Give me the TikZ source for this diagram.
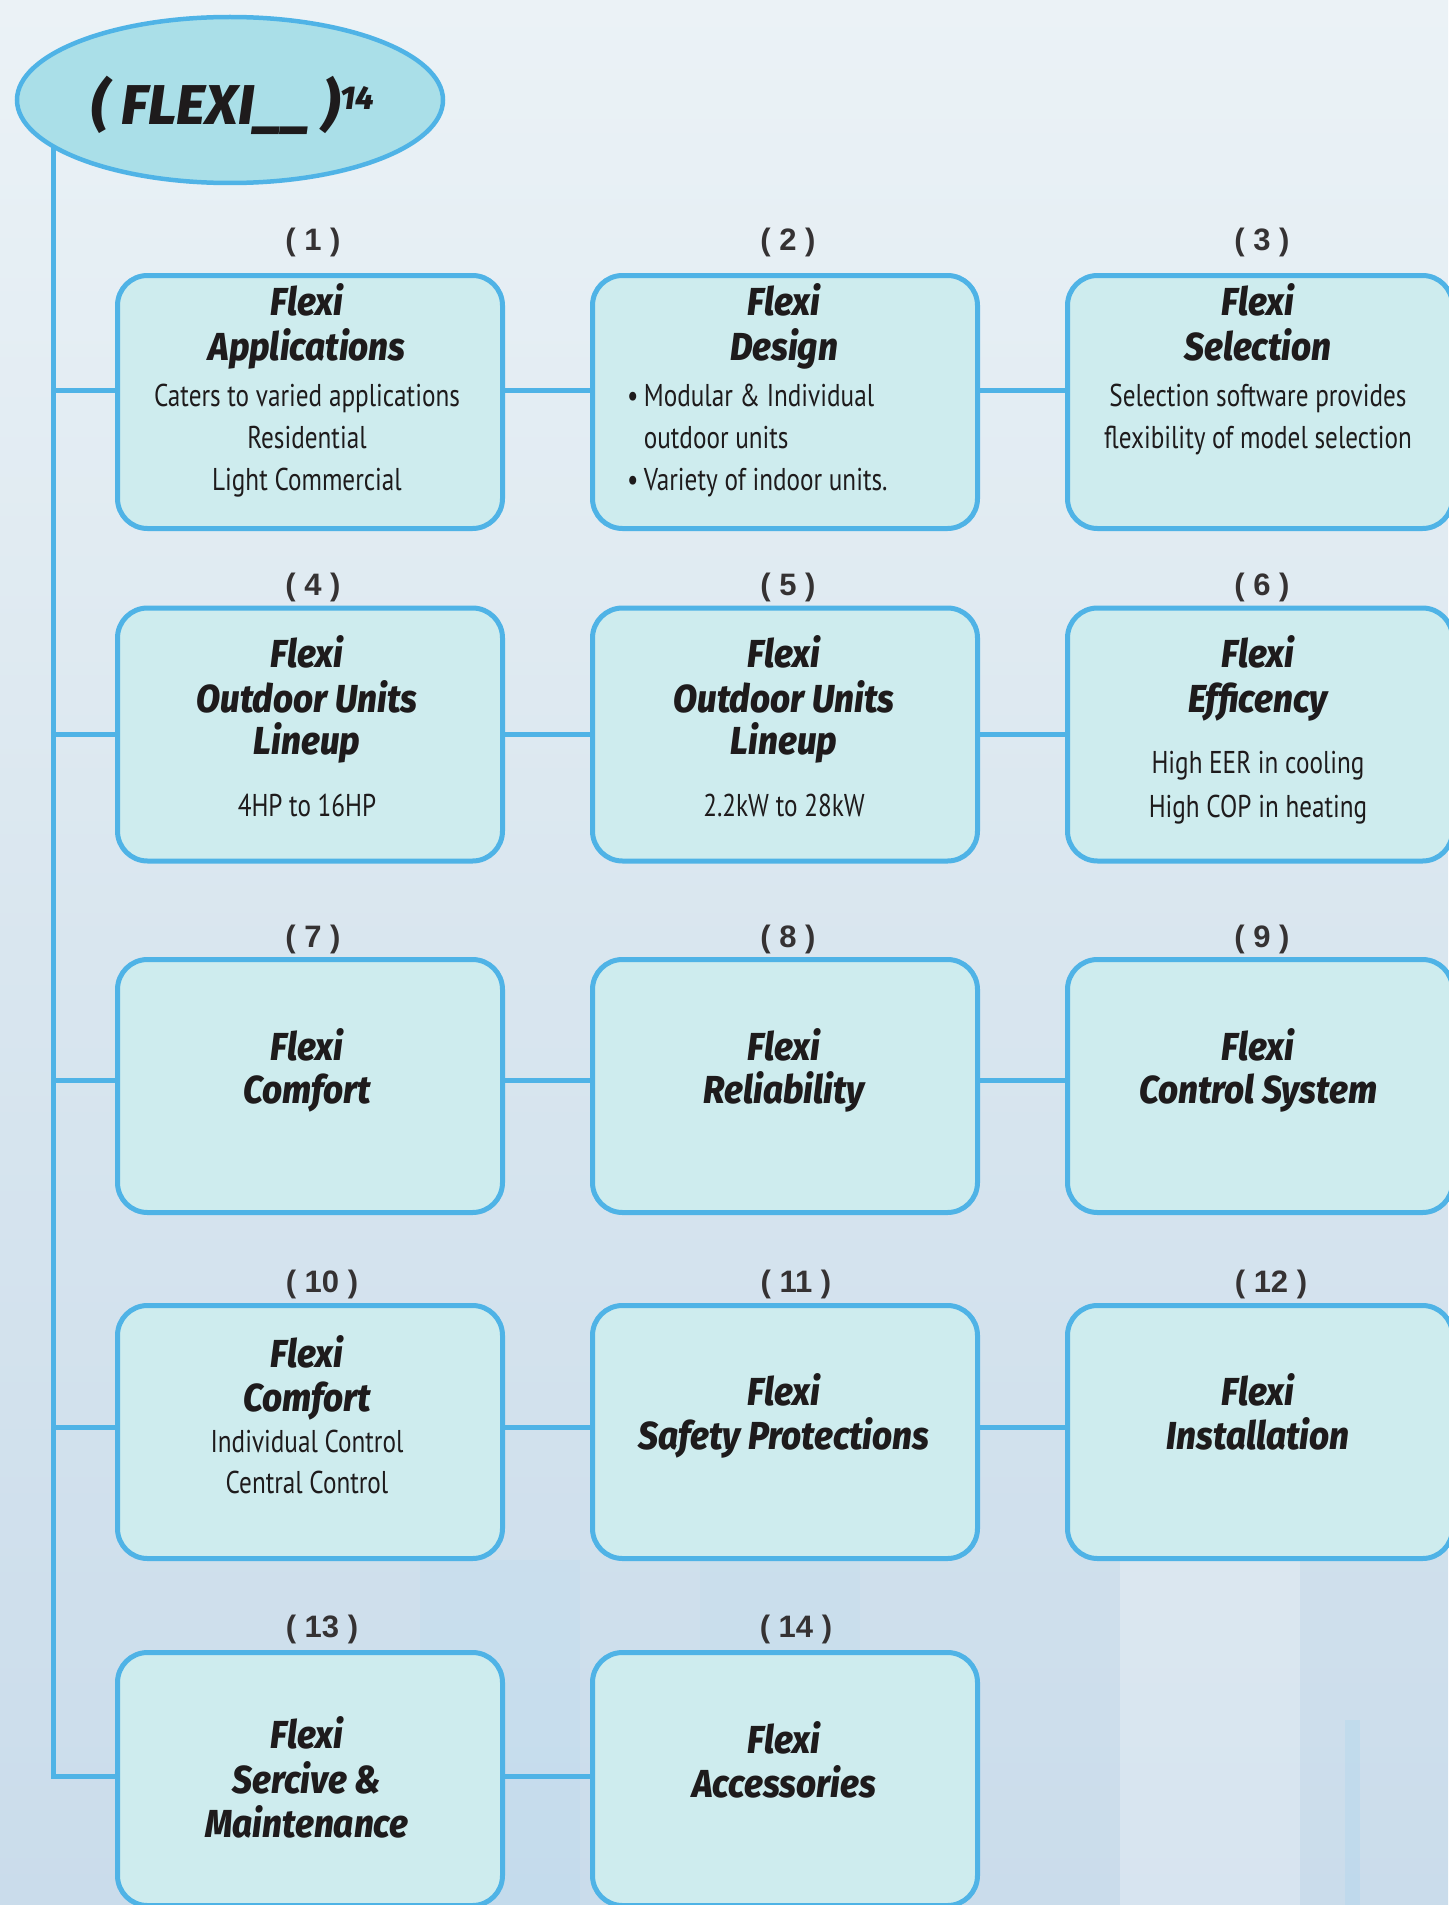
\documentclass[tikz,border=0pt]{standalone}
\usepackage{fontspec}
\newfontfamily\ttlfont[FakeStretch=0.9]{Fira Sans ExtraBold Italic}
\newfontfamily\headfont{Fira Sans ExtraBold Italic}
\newfontfamily\bodyfont[FakeStretch=0.8]{PT Sans}
\newfontfamily\lblfont{Liberation Sans}
\usetikzlibrary{shapes.geometric,backgrounds}
\definecolor{lineblue}{HTML}{4FB3E6}
\definecolor{boxfill}{HTML}{CEECEE}
\definecolor{ellfill}{HTML}{AADFE8}
\definecolor{txt}{HTML}{1E1B1C}
\definecolor{bgtop}{HTML}{EBF2F6}
\definecolor{bgmid}{HTML}{D9E6EF}
\definecolor{bgbot}{HTML}{CADCEB}
\begin{document}
\begin{tikzpicture}[x=1pt,y=-1pt,
  fbox/.style={draw=lineblue,line width=5pt,fill=boxfill,rounded corners=30pt,minimum width=385pt,minimum height=253pt,inner sep=0pt},
  conn/.style={draw=lineblue,line width=5pt},
  ttl/.style={font=\ttlfont\fontsize{39}{39}\selectfont,text=txt,inner sep=0pt,anchor=base},
  bdy/.style={font=\bodyfont\fontsize{31.5}{31.5}\selectfont,text=txt,inner sep=0pt,anchor=base},
  lbl/.style={font=\lblfont\bfseries\fontsize{31}{31}\selectfont,text=txt!90,inner sep=0pt,anchor=base}]
\useasboundingbox (0,0) rectangle (1448,1905);
\begin{scope}[on background layer]
  \fill[top color=bgtop,bottom color=bgbot,middle color=bgmid] (0,0) rectangle (1448,1905);
  \fill[white,opacity=0.25] (1120,1520) rectangle (1300,1905);
  \fill[lineblue!50,opacity=0.15] (420,1560) rectangle (580,1905);
  \fill[lineblue!50,opacity=0.12] (700,1500) rectangle (860,1905);
  \fill[lineblue!60,opacity=0.2] (1345,1720) rectangle (1360,1905);
\end{scope}

% title ellipse
\node[ellipse,draw=lineblue,line width=4.5pt,fill=ellfill,minimum width=426pt,minimum height=166pt,inner sep=0pt] (e) at (230,100) {};
\node[font=\headfont\fontsize{56}{56}\selectfont,text=txt,inner sep=0pt,anchor=base] (et) at (233,125) {( FLEXI\_\_ )\raisebox{15pt}{\fontsize{33}{33}\selectfont 14}};

% boxes
\node[fbox] (b1) at (310,402) {};
\node[fbox] (b2) at (785,402) {};
\node[fbox] (b3) at (1260,402) {};
\node[fbox] (b4) at (310,734.5) {};
\node[fbox] (b5) at (785,734.5) {};
\node[fbox] (b6) at (1260,734.5) {};
\node[fbox] (b7) at (310,1086) {};
\node[fbox] (b8) at (785,1086) {};
\node[fbox] (b9) at (1260,1086) {};
\node[fbox] (b10) at (310,1432) {};
\node[fbox] (b11) at (785,1432) {};
\node[fbox] (b12) at (1260,1432) {};
\node[fbox] (b13) at (310,1779) {};
\node[fbox] (b14) at (785,1779) {};

% number labels
\node[lbl] (l1) at (313,250) {( 1 )};
\node[lbl] (l2) at (788,250) {( 2 )};
\node[lbl] (l3) at (1262,250) {( 3 )};
\node[lbl] (l4) at (313,595) {( 4 )};
\node[lbl] (l5) at (788,595) {( 5 )};
\node[lbl] (l6) at (1262,595) {( 6 )};
\node[lbl] (l7) at (313,947) {( 7 )};
\node[lbl] (l8) at (788,947) {( 8 )};
\node[lbl] (l9) at (1262,947) {( 9 )};
\node[lbl] (l10) at (322,1292) {( 10 )};
\node[lbl] (l11) at (796,1292) {( 11 )};
\node[lbl] (l12) at (1271,1292) {( 12 )};
\node[lbl] (l13) at (322,1637) {( 13 )};
\node[lbl] (l14) at (796,1637) {( 14 )};

% box 1
\node[ttl] (t1a) at (307,315) {Flexi};
\node[ttl] (t1b) at (307,360) {Applications};
\node[bdy] (t1c) at (307,406) {Caters to varied applications};
\node[bdy] (t1d) at (307,448) {Residential};
\node[bdy] (t1e) at (307,490) {Light Commercial};
% box 2
\node[ttl] (t2a) at (784,315) {Flexi};
\node[ttl] (t2b) at (784,360) {Design};
\node[bdy,anchor=base west] (t2c) at (627,406) {\textbullet\,Modular \& Individual};
\node[bdy,anchor=base west] (t2d) at (627,448) {\phantom{\textbullet\,}outdoor units};
\node[bdy,anchor=base west] (t2e) at (627,490) {\textbullet\,Variety of indoor units.};
% box 3
\node[ttl] (t3a) at (1258,315) {Flexi};
\node[ttl] (t3b) at (1258,360) {Selection};
\node[bdy] (t3c) at (1258,406) {Selection software provides};
\node[bdy] (t3d) at (1258,448) {flexibility of model selection};
% box 4
\node[ttl] (t4a) at (307,667) {Flexi};
\node[ttl] (t4b) at (307,712) {Outdoor Units};
\node[ttl] (t4c) at (307,754) {Lineup};
\node[bdy] (t4d) at (307,816) {4HP to 16HP};
% box 5
\node[ttl] (t5a) at (784,667) {Flexi};
\node[ttl] (t5b) at (784,712) {Outdoor Units};
\node[ttl] (t5c) at (784,754) {Lineup};
\node[bdy] (t5d) at (784,816) {2.2kW to 28kW};
% box 6
\node[ttl] (t6a) at (1258,667) {Flexi};
\node[ttl] (t6b) at (1258,712) {Efficency};
\node[bdy] (t6c) at (1258,773) {High EER in cooling};
\node[bdy] (t6d) at (1258,817) {High COP in heating};
% row 3
\node[ttl] (t7a) at (307,1060) {Flexi};
\node[ttl] (t7b) at (307,1103) {Comfort};
\node[ttl] (t8a) at (784,1060) {Flexi};
\node[ttl] (t8b) at (784,1103) {Reliability};
\node[ttl] (t9a) at (1258,1060) {Flexi};
\node[ttl] (t9b) at (1258,1103) {Control System};
% row 4
\node[ttl] (t10a) at (307,1367) {Flexi};
\node[ttl] (t10b) at (307,1411) {Comfort};
\node[bdy] (t10c) at (307,1452) {Individual Control};
\node[bdy] (t10d) at (307,1493) {Central Control};
\node[ttl] (t11a) at (784,1405) {Flexi};
\node[ttl] (t11b) at (784,1449) {Safety Protections};
\node[ttl] (t12a) at (1258,1405) {Flexi};
\node[ttl] (t12b) at (1258,1449) {Installation};
% row 5
\node[ttl] (t13a) at (307,1748) {Flexi};
\node[ttl] (t13b) at (307,1793) {Sercive \&};
\node[ttl] (t13c) at (307,1837) {Maintenance};
\node[ttl] (t14a) at (784,1753) {Flexi};
\node[ttl] (t14b) at (784,1797) {Accessories};

% connectors
\coordinate (top) at (53,140);
\coordinate (j1) at (53,390);
\coordinate (j2) at (53,734);
\coordinate (j3) at (53,1080);
\coordinate (j4) at (53,1427);
\coordinate (j5) at (53,1776);
\begin{scope}[on background layer]
  \draw[conn] (top) -- (j5) -- (j5 -| b13.west);
  \foreach \j/\a/\b/\c in {j1/b1/b2/b3,j2/b4/b5/b6,j3/b7/b8/b9,j4/b10/b11/b12}{
    \draw[conn] (\j) -- (\j -| \a.west);
    \draw[conn] (\j -| \a.east) -- (\j -| \b.west);
    \draw[conn] (\j -| \b.east) -- (\j -| \c.west);
  }
  \draw[conn] (j5 -| b13.east) -- (j5 -| b14.west);
\end{scope}
\end{tikzpicture}
\end{document}
